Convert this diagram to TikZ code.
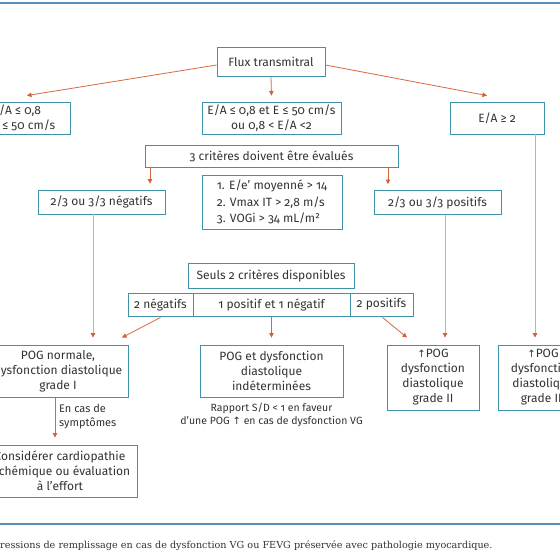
\documentclass[tikz,border=0pt]{standalone}
\usepackage{fontspec}
\setmainfont{Fira Sans}[Numbers=OldStyle]
\newfontfamily\capfont{DejaVu Serif}
\newfontfamily\arrfont{DejaVu Sans}
\usetikzlibrary{arrows.meta}
\definecolor{bxc}{HTML}{3E93AA}
\definecolor{arc}{HTML}{D4693F}
\definecolor{lnc}{HTML}{DCA78C}
\definecolor{tipc}{HTML}{D65F38}
\definecolor{rulec}{HTML}{5A8DB8}
\definecolor{txt}{HTML}{333333}
\newcommand{\uparr}{{\arrfont\fontsize{10}{10}\selectfont ↑}}
\begin{document}
\begin{tikzpicture}[x=1pt,y=-1pt,
  bx/.style={draw=bxc, line width=0.9pt, fill=white, inner sep=0pt, align=center, text=txt, font=\fontsize{12}{15}\selectfont},
  arr/.style={draw=arc, line width=0.8pt, -{Triangle[length=4.5pt,width=4.5pt,color=tipc]}},
  lng/.style={draw=lnc, line width=1pt, -{Triangle[length=4.5pt,width=4.5pt,color=tipc]}},
  gap/.style={shorten >=7pt},
  rl/.style={draw=rulec, line width=1.5pt}
]
\useasboundingbox (0,0) rectangle (560,560);
\clip (0,0) rectangle (560,560);
\fill[white] (0,0) rectangle (560,560);

\draw[rl] (0,3) -- (560,3);
\draw[rl] (0,524) -- (560,524);

\node[bx, minimum width=108pt, minimum height=29pt] (flux) at (271,62) {Flux transmitral};
\node[bx, minimum width=92pt, minimum height=32pt, align=left] (ealeft) at (24,118) {E/A ≤ 0,8\\E ≤ 50 cm/s};
\node[bx, minimum width=139pt, minimum height=32pt] (eamid) at (271.5,118) {E/A ≤ 0,8 et E ≤ 50 cm/s\\ou 0,8 < E/A <2};
\node[bx, minimum width=94pt, minimum height=32pt] (earight) at (497,118) {E/A ≥ 2};
\node[bx, minimum width=253pt, minimum height=22pt] (crit3) at (271.5,156) {3 critères doivent être évalués};
\node[bx, minimum width=127pt, minimum height=24pt] (neg) at (101.5,202) {2/3 ou 3/3 négatifs};
\node[bx, minimum width=127pt, minimum height=24pt] (pos) at (437.5,202.5) {2/3 ou 3/3 positifs};
\node[bx, minimum width=140pt, minimum height=54pt, align=left, font=\fontsize{12}{16.5}\selectfont] (crits) at (272,202) {1. E/e’ moyenné > 14\\2. Vmax IT > 2,8 m/s\\3. VOGi > 34 mL/m²};
\node[bx, minimum width=166pt, minimum height=25pt] (seuls) at (271,275.5) {Seuls 2 critères disponibles};
\node[bx, minimum width=65pt, minimum height=23pt] (neg2) at (160.5,304.5) {2 négatifs};
\node[bx, minimum width=157pt, minimum height=23pt] (mix) at (271.5,304.5) {1 positif et 1 négatif};
\node[bx, minimum width=63pt, minimum height=23pt] (pos2) at (381.5,304.5) {2 positifs};
\node[bx, minimum width=140pt, minimum height=52pt] (pognorm) at (58,371) {POG normale,\\dysfonction diastolique\\grade I};
\node[bx, minimum width=154pt, minimum height=52pt] (consid) at (60,471) {Considérer cardiopathie\\ischémique ou évaluation\\à l’effort};
\node[bx, minimum width=143pt, minimum height=52pt] (indet) at (271.5,371) {POG et dysfonction\\diastolique\\indéterminées};
\node[bx, minimum width=92pt, minimum height=65pt] (grade2) at (433,377.5) {\uparr POG\\dysfonction\\diastolique\\grade II};
\node[bx, minimum width=90pt, minimum height=65pt] (grade3) at (543,377.5) {\uparr POG\\dysfonction\\diastolique\\grade III};
\node[text=txt, align=left, anchor=west, inner sep=0pt, font=\fontsize{11}{13.5}\selectfont] (symp) at (59,416.5) {En cas de\\symptômes};
\node[text=txt, align=center, inner sep=0pt, font=\fontsize{10.5}{13}\selectfont] (rapp) at (271.5,414.5) {Rapport S/D < 1 en faveur\\d’une POG \uparr\ en cas de dysfonction VG};
\node[text=txt, anchor=west, inner sep=0pt, font=\capfont\fontsize{9.65}{11}\selectfont] (cap) at (0,546) {ressions de remplissage en cas de dysfonction VG ou FEVG préservée avec pathologie myocardique.};

% connectors
\draw[arr] ([yshift=-3pt]flux.west) -- ([xshift=3pt,yshift=6pt]ealeft.north);
\draw[arr] (flux.south) -- ([yshift=6pt]eamid.north);
\draw[arr] ([yshift=-3pt]flux.east) -- ([xshift=-10pt,yshift=6pt]earight.north);
\draw[arr, shorten >=6pt] ([xshift=-121.5pt]crit3.south) -- ([xshift=-121.5pt]crit3.south |- neg.north);
\draw[arr, shorten >=6pt] ([xshift=116.5pt]crit3.south) -- ([xshift=116.5pt]crit3.south |- pos.north);
\draw[lng, gap] ([xshift=-8.5pt]neg.south) -- ([xshift=-8.5pt]neg.south |- pognorm.north);
\draw[lng, gap] ([xshift=7.5pt]pos.south) -- ([xshift=7.5pt]pos.south |- grade2.north);
\draw[lng, gap] ([xshift=38pt]earight.south) -- ([xshift=38pt]earight.south |- grade3.north);
\draw[arr] ([yshift=-1pt]neg2.south) -- ([xshift=64pt,yshift=7pt]pognorm.north);
\draw[arr, gap] (mix.south) -- (indet.north);
\draw[arr] ([xshift=1pt,yshift=-1pt]pos2.south) -- ([xshift=-26pt,yshift=7pt]grade2.north);
\draw[arr] ([xshift=-3pt]pognorm.south) -- ([xshift=-5pt,yshift=7pt]consid.north);
\end{tikzpicture}
\end{document}
